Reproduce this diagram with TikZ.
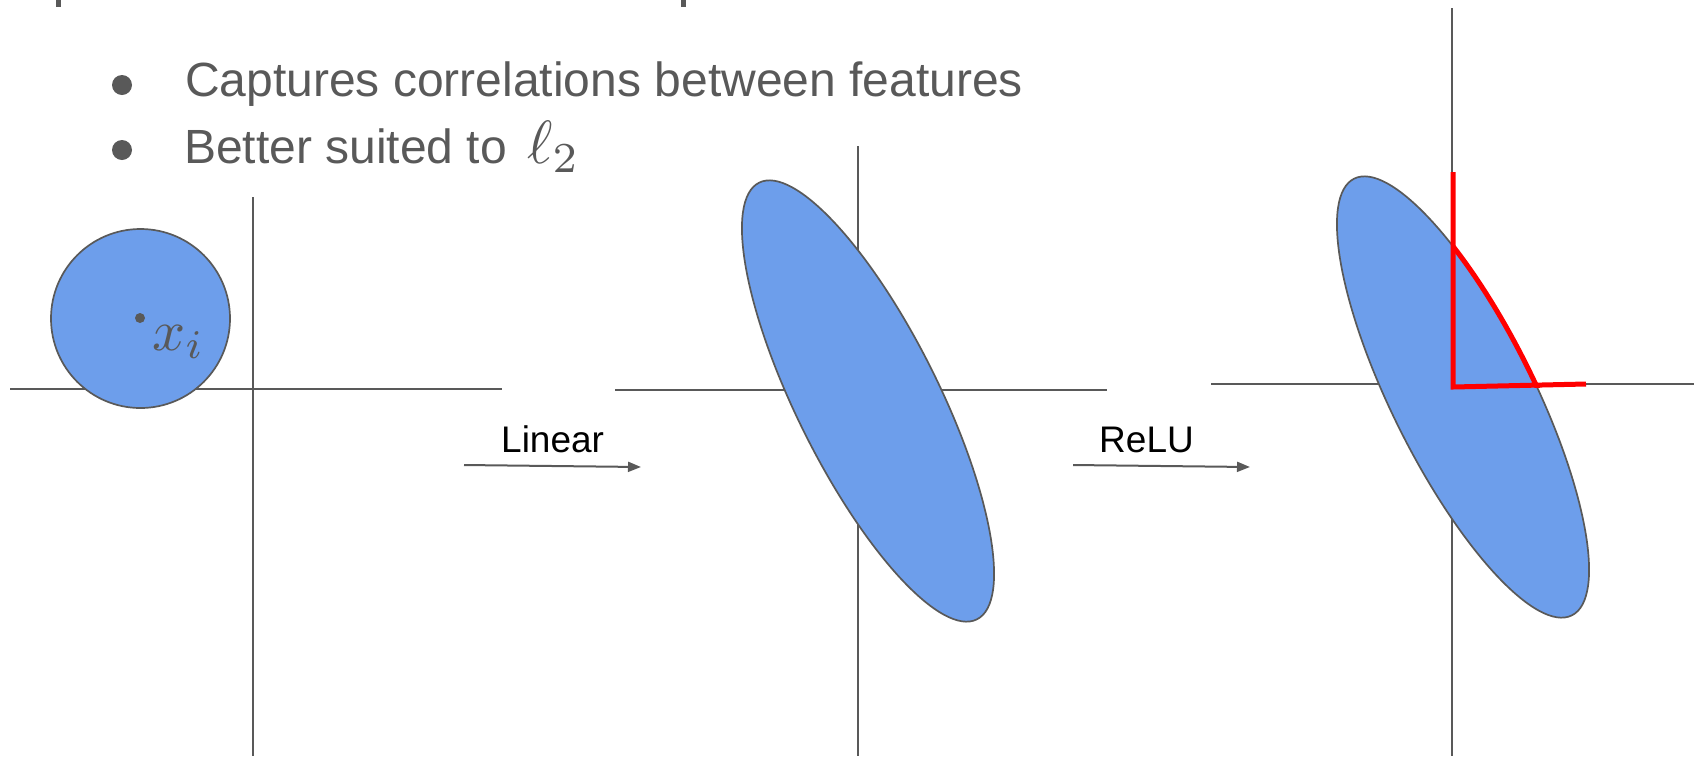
\documentclass[tikz,border=0pt]{standalone}
\usepackage{fontspec}
\setmainfont{Liberation Sans}
\usetikzlibrary{arrows.meta}
\definecolor{gtext}{HTML}{595959}
\definecolor{gfill}{HTML}{6D9EEB}
\definecolor{gred}{HTML}{FF0000}
\tikzset{
  axis/.style={draw=gtext, line width=2},
  blob/.style={draw=gtext, fill=gfill, line width=1.7},
  redl/.style={draw=gred, line width=5},
  arr/.style={draw=gtext, line width=2, -{Triangle[length=13,width=10]}},
  bullettext/.style={anchor=base west, inner sep=0, text=gtext, font=\fontsize{48}{56}\selectfont},
  mathlbl/.style={anchor=base west, inner sep=0, text=gtext, font=\fontsize{10}{12}\selectfont},
  oplbl/.style={anchor=base west, inner sep=0, text=black, font=\fontsize{37}{44}\selectfont},
  dotb/.style={fill=gtext, draw=none}
}
\begin{document}
\begin{tikzpicture}[x=1pt,y=1pt]
\useasboundingbox (0,0) rectangle (1694,-756);
% cut-off descenders at the top
\fill[gtext] (56,0) rectangle (60.5,-7);
\fill[gtext] (681,0) rectangle (685.5,-7);
% bullets
\fill[dotb] (122,-85) circle (10);
\fill[dotb] (122,-150) circle (10);
\node[bullettext] (t1) at (185,-96) {Captures correlations between features};
\node[bullettext] (t2) at (184,-163) {Better suited to};
\node[mathlbl, scale=6.1] (l2) at (526,-163) {$\ell_2$};
% left panel
\draw[axis] (253,-197) -- (253,-756);
\draw[axis] (10,-389) -- (502,-389);
\draw[blob] (140.5,-318.5) circle (89.5);
\fill[dotb] (140,-318) circle (5);
\node[mathlbl, scale=5.8] (xi) at (151,-350) {$x_i$};
% Linear arrow
\coordinate (la) at (464,-465);
\coordinate (lb) at (641,-467);
\draw[arr] (la) -- (lb);
\node[oplbl] (lin) at (501,-452) {Linear};
% middle panel
\draw[axis] (858,-146) -- (858,-756);
\draw[axis] (615,-390) -- (1107,-390);
\draw[blob, rotate around={-63.5:(868,-401)}] (868,-401) ellipse [x radius=244, y radius=71];
% ReLU arrow
\coordinate (ra) at (1073,-465);
\coordinate (rb) at (1250,-467);
\draw[arr] (ra) -- (rb);
\node[oplbl] (relu) at (1099,-452) {ReLU};
% right panel
\draw[axis] (1452,-8) -- (1452,-756);
\draw[axis] (1211,-384) -- (1694,-384);
\draw[blob, rotate around={-63.5:(1463,-397)}] (1463,-397) ellipse [x radius=244, y radius=71];
\begin{scope}
  \clip (1453,-100) rectangle (1700,-387);
  \draw[redl, rotate around={-63.5:(1463,-397)}] (1463,-397) ellipse [x radius=244, y radius=71];
\end{scope}
\draw[redl, line join=miter] (1453,-172) -- (1453,-387) -- (1586,-384);
\end{tikzpicture}
\end{document}
